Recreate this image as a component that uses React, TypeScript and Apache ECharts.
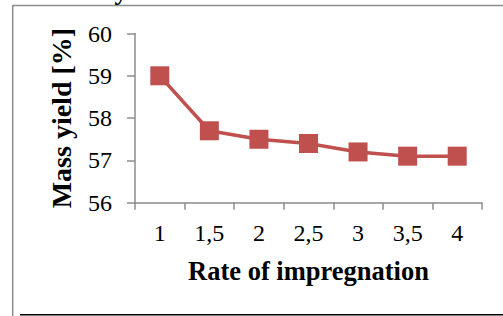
import React, { useEffect, useRef } from "react";
import * as echarts from "echarts";

const categories = ["1", "1,5", "2", "2,5", "3", "3,5", "4"];
const massYield = [59.0, 57.7, 57.5, 57.4, 57.2, 57.1, 57.1];
const yTicks = { min: 56, max: 60, interval: 1 };
const xName = "Rate of impregnation";
const yName = "Mass yield [%]";

export default function App() {
  const ref = useRef<HTMLDivElement>(null);
  useEffect(() => {
    document.body.style.margin = "0";
    const chart = echarts.init(ref.current!, null, { renderer: "svg" });
    const axisColor = "#8c8c8c";
    const font = "'Liberation Serif', 'Times New Roman', serif";
    chart.setOption({
      animation: false,
      backgroundColor: "#ffffff",
      grid: { left: 135, right: 21, top: 33.5, bottom: 113.3, containLabel: false },
      xAxis: {
        type: "category",
        data: categories,
        boundaryGap: true,
        name: xName,
        nameLocation: "middle",
        nameGap: 55,
        nameTextStyle: { fontFamily: font, fontSize: 26.5, fontWeight: "bold", color: "#000" },
        axisLine: { show: true, lineStyle: { color: axisColor, width: 1.5 } },
        axisTick: { show: true, length: 7, lineStyle: { color: axisColor, width: 1.5 } },
        axisLabel: { fontFamily: font, fontSize: 24, color: "#000", margin: 18 },
        splitLine: { show: false },
      },
      yAxis: {
        type: "value",
        min: yTicks.min,
        max: yTicks.max,
        interval: yTicks.interval,
        name: yName,
        nameLocation: "middle",
        nameGap: 60,
        nameTextStyle: { fontFamily: font, fontSize: 28, fontWeight: "bold", color: "#000" },
        axisLine: { show: true, lineStyle: { color: axisColor, width: 1.5 } },
        axisTick: { show: true, length: 8, lineStyle: { color: axisColor, width: 1.5 } },
        axisLabel: { fontFamily: font, fontSize: 24, color: "#000", margin: 23 },
        splitLine: { show: false },
      },
      series: [
        {
          type: "line",
          data: massYield,
          symbol: "rect",
          symbolSize: 19,
          lineStyle: { color: "#C0504D", width: 3.5 },
          itemStyle: { color: "#C0504D" },
        },
      ],
      graphic: [
        { type: "line", shape: { x1: 13, y1: 5.5, x2: 503, y2: 5.5 }, style: { stroke: "#8c8c8c", lineWidth: 1.5 } },
        { type: "line", shape: { x1: 12.7, y1: 5, x2: 12.7, y2: 316 }, style: { stroke: "#8c8c8c", lineWidth: 1.5 } },
        { type: "line", shape: { x1: 20, y1: 314.8, x2: 503, y2: 314.8 }, style: { stroke: "#000", lineWidth: 1.5 } },
        {
          type: "text",
          x: 121,
          y: 4,
          style: { text: "y", font: "bold 26px 'Liberation Serif', serif", fill: "#000", align: "center", verticalAlign: "bottom" },
        },
      ],
    });
    return () => chart.dispose();
  }, []);
  return <div ref={ref} style={{ position: "fixed", left: 0, top: 0, width: 503, height: 316 }} />;
}
